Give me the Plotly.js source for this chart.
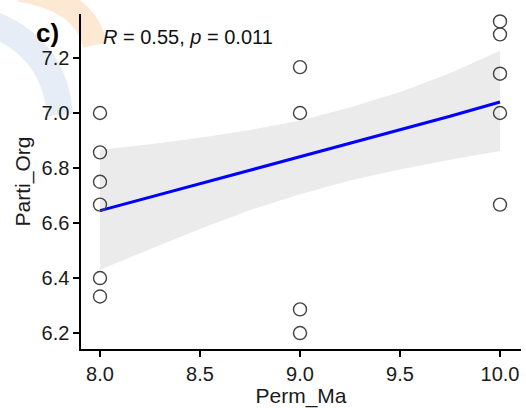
<!DOCTYPE html>
<html>
<head>
<meta charset="utf-8">
<script src="https://cdn.plot.ly/plotly-3.0.1.min.js"></script>
<style>
  html, body { margin: 0; padding: 0; background: #ffffff; }
  #chart { width: 526px; height: 408px; }
</style>
</head>
<body>
<div id="chart"></div>
<script>
// Observed points
const permX = [8, 8, 8, 8, 8, 8, 9, 9, 9, 9, 10, 10, 10, 10, 10];
const partiY = [7.0, 6.857, 6.75, 6.667, 6.4, 6.333, 7.167, 7.0, 6.286, 6.2, 7.333, 7.286, 7.143, 7.0, 6.667];

// Fitted line and 95% confidence band
const fitX = [8, 8.25, 8.5, 8.75, 9, 9.25, 9.5, 9.75, 10];
const fitY = [6.645, 6.694, 6.743, 6.792, 6.841, 6.890, 6.939, 6.988, 7.040];
const bandUpper = [6.866, 6.886, 6.910, 6.938, 6.973, 7.020, 7.076, 7.145, 7.226];
const bandLower = [6.430, 6.505, 6.578, 6.647, 6.705, 6.755, 6.795, 6.830, 6.862];

const xTicks = [8.0, 8.5, 9.0, 9.5, 10.0];
const xTickText = ["8.0", "8.5", "9.0", "9.5", "10.0"];
const yTicks = [6.2, 6.4, 6.6, 6.8, 7.0, 7.2];
const yTickText = ["6.2", "6.4", "6.6", "6.8", "7.0", "7.2"];

const FONT = "Liberation Sans, Arial, sans-serif";

const bandTrace = {
  x: fitX.concat(fitX.slice().reverse()),
  y: bandUpper.concat(bandLower.slice().reverse()),
  type: "scatter", mode: "lines",
  fill: "toself", fillcolor: "rgb(235,235,235)",
  line: { width: 0, color: "rgba(0,0,0,0)" },
  hoverinfo: "skip", showlegend: false
};
const fitTrace = {
  x: fitX, y: fitY, type: "scatter", mode: "lines",
  line: { color: "#0000ff", width: 3 }, showlegend: false
};
const pointTrace = {
  x: permX, y: partiY, type: "scatter", mode: "markers",
  marker: { symbol: "circle-open", size: 13, color: "#444444", line: { width: 1.4, color: "#444444" } },
  showlegend: false
};

const layout = {
  width: 526, height: 408,
  margin: { l: 81, r: 5, t: 14, b: 59 },
  paper_bgcolor: "#ffffff", plot_bgcolor: "rgba(0,0,0,0)",
  font: { family: FONT, color: "#1a1a1a" },
  showlegend: false,
  xaxis: {
    range: [7.905, 10.105],
    tickmode: "array", tickvals: xTicks, ticktext: xTickText,
    showgrid: false, zeroline: false,
    showline: true, linecolor: "#000000", linewidth: 1.6,
    ticks: "outside", ticklen: 6, tickwidth: 1.5, tickcolor: "#000000",
    tickfont: { size: 20, color: "#1a1a1a", family: FONT },
    title: { text: "Perm_Ma", font: { size: 21, color: "#1a1a1a", family: FONT }, standoff: 3 }
  },
  yaxis: {
    range: [6.142, 7.36],
    tickmode: "array", tickvals: yTicks, ticktext: yTickText,
    showgrid: false, zeroline: false,
    showline: true, linecolor: "#000000", linewidth: 1.6,
    ticks: "outside", ticklen: 6, tickwidth: 1.5, tickcolor: "#000000",
    tickfont: { size: 20, color: "#1a1a1a", family: FONT },
    title: { text: "Parti_Org", font: { size: 21, color: "#1a1a1a", family: FONT }, standoff: 5 }
  },
  shapes: [
    {
      // faint orange part of the background watermark
      type: "path", xref: "paper", yref: "paper", layer: "below",
      path: "M -0.1386 1.0716 Q 0.0091 1.0418 0.0318 0.9075",
      line: { color: "rgba(250,205,160,0.45)", width: 24 }
    },
    {
      // faint blue wreath part of the background watermark
      type: "path", xref: "paper", yref: "paper", layer: "below",
      path: "M -0.1955 0.967 Q -0.0591 0.8925 -0.0477 0.6985",
      line: { color: "rgba(170,190,225,0.28)", width: 26 }
    }
  ],
  annotations: [
    {
      xref: "paper", yref: "paper", x: 0.046, y: 0.931,
      xanchor: "left", yanchor: "middle", showarrow: false,
      text: "<i>R</i> = 0.55, <i>p</i> = 0.011",
      font: { size: 20, color: "#111111", family: FONT }
    },
    {
      xref: "paper", yref: "paper", x: -0.106, y: 0.942,
      xanchor: "left", yanchor: "middle", showarrow: false,
      text: "<b>c)</b>",
      font: { size: 26, color: "#000000", family: FONT }
    }
  ]
};

Plotly.newPlot("chart", [bandTrace, fitTrace, pointTrace], layout, { displayModeBar: false, staticPlot: true });
</script>
</body>
</html>
